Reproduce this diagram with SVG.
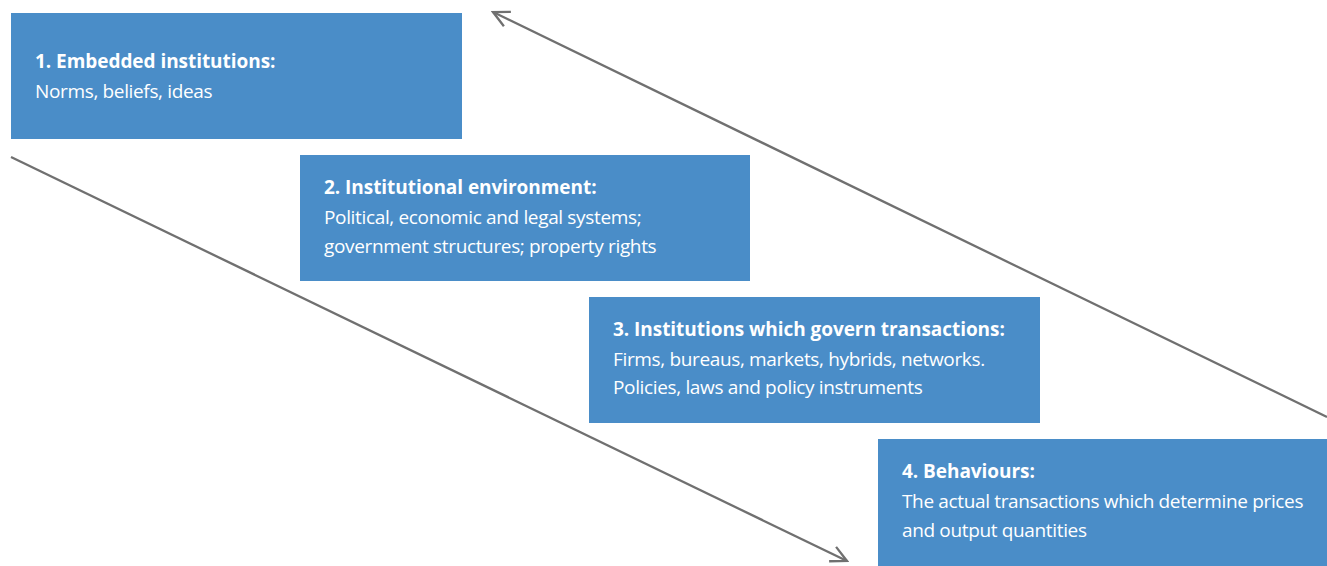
<svg xmlns="http://www.w3.org/2000/svg" width="1327" height="566" viewBox="0 0 1327 566">
<style>
.box{fill:#4a8dc8}
.t{font-family:"Open Sans","Liberation Sans",sans-serif;font-size:19px;fill:#fff;letter-spacing:-0.35px}
.b{font-weight:bold;letter-spacing:-0.05px}
.c{stroke:#707070;stroke-width:2.3;fill:none}
</style>
<defs>
<marker id="ah" viewBox="0 0 20 20" refX="18" refY="10" markerWidth="20" markerHeight="20" markerUnits="userSpaceOnUse" orient="auto">
<path d="M2,2 L18,10 L2,18" fill="none" stroke="#707070" stroke-width="2.3"/>
</marker>
</defs>
<rect width="1327" height="566" fill="#fff"/>
<g id="connectors">
<line class="c" x1="11" y1="157" x2="847" y2="561" marker-end="url(#ah)"/>
<line class="c" x1="1327" y1="417" x2="493" y2="12" marker-end="url(#ah)"/>
</g>
<g id="node1">
<rect class="box" x="11" y="13" width="451" height="126"/>
<text class="t b" x="35" y="68">1. Embedded institutions:</text>
<text class="t" x="35" y="98">Norms, beliefs, ideas</text>
</g>
<g id="node2">
<rect class="box" x="300" y="155" width="450" height="126"/>
<text class="t b" x="324" y="194">2. Institutional environment:</text>
<text class="t" x="324" y="224">Political, economic and legal systems;</text>
<text class="t" x="324" y="253">government structures; property rights</text>
</g>
<g id="node3">
<rect class="box" x="589" y="297" width="451" height="126"/>
<text class="t b" x="613" y="336">3. Institutions which govern transactions:</text>
<text class="t" x="613" y="366">Firms, bureaus, markets, hybrids, networks.</text>
<text class="t" x="613" y="394">Policies, laws and policy instruments</text>
</g>
<g id="node4">
<rect class="box" x="878" y="439" width="449" height="127"/>
<text class="t b" x="902" y="478">4. Behaviours:</text>
<text class="t" x="902" y="508">The actual transactions which determine prices</text>
<text class="t" x="902" y="537">and output quantities</text>
</g>
</svg>
